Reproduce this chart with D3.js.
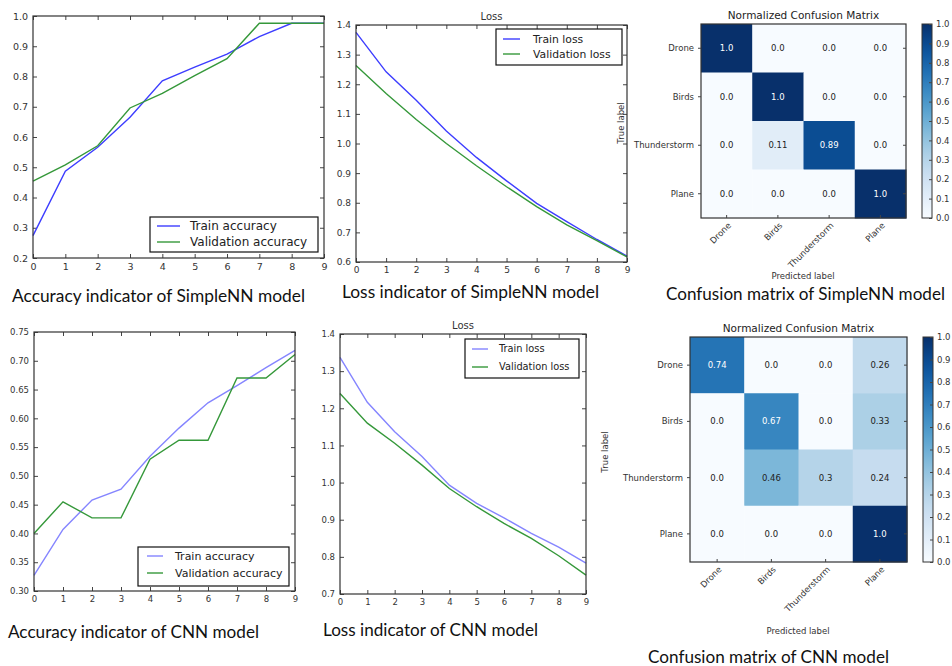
<!DOCTYPE html>
<html>
<head>
<meta charset="utf-8">
<script src="https://cdn.jsdelivr.net/npm/d3@7"></script>
<style>
  body { margin: 0; background: #fff; }
  svg { display: block; }
  .tick text { font-family: "DejaVu Sans", sans-serif; fill: #333; }
  .caption { font-family: Lato, "Open Sans", sans-serif; fill: #111; }
  .small { font-family: "DejaVu Sans", sans-serif; fill: #333; }
</style>
</head>
<body>
<div id="chart"></div>
<script>
// data
var epochs = [0, 1, 2, 3, 4, 5, 6, 7, 8, 9];

var simpleTrainAcc = [0.274, 0.487, 0.566, 0.665, 0.786, 0.831, 0.874, 0.932, 0.976, 0.976];
var simpleValAcc = [0.454, 0.508, 0.571, 0.696, 0.744, 0.803, 0.859, 0.976, 0.976, 0.976];
var simpleTrainLoss = [1.375, 1.242, 1.146, 1.042, 0.953, 0.874, 0.798, 0.736, 0.676, 0.62];
var simpleValLoss = [1.263, 1.169, 1.081, 1.0, 0.925, 0.854, 0.787, 0.725, 0.672, 0.617];

var cnnTrainAcc = [0.327, 0.407, 0.458, 0.477, 0.534, 0.583, 0.627, 0.657, 0.688, 0.718];
var cnnValAcc = [0.4, 0.455, 0.427, 0.427, 0.529, 0.562, 0.562, 0.67, 0.67, 0.711];
var cnnTrainLoss = [1.337, 1.216, 1.137, 1.07, 0.993, 0.944, 0.905, 0.863, 0.826, 0.783];
var cnnValLoss = [1.24, 1.16, 1.106, 1.047, 0.984, 0.935, 0.89, 0.85, 0.803, 0.751];

var classLabels = ["Drone", "Birds", "Thunderstorm", "Plane"];
var simpleCM = [
  [1.0, 0.0, 0.0, 0.0],
  [0.0, 1.0, 0.0, 0.0],
  [0.0, 0.11, 0.89, 0.0],
  [0.0, 0.0, 0.0, 1.0],
];
var cnnCM = [
  [0.74, 0.0, 0.0, 0.26],
  [0.0, 0.67, 0.0, 0.33],
  [0.0, 0.46, 0.3, 0.24],
  [0.0, 0.0, 0.0, 1.0],
];
var colorbarTicks = [0, 0.1, 0.2, 0.3, 0.4, 0.5, 0.6, 0.7, 0.8, 0.9, 1.0];

var svgWidth = 952;
var svgHeight = 666;

var svg = d3
  .select("#chart")
  .append("svg")
  .attr("width", svgWidth)
  .attr("height", svgHeight);

var blue = "#3d3dff";
var lightBlue = "#8585ff";
var green = "#35983a";

// line chart with matplotlib classic look (ticks inward on all sides)
function linePanel(p) {
  var x = d3.scaleLinear().domain([0, 9]).range([p.x0, p.x1]);
  var y = d3.scaleLinear().domain(p.yDomain).range([p.y1, p.y0]);
  var g = svg.append("g");

  g.append("rect")
    .attr("x", p.x0)
    .attr("y", p.y0)
    .attr("width", p.x1 - p.x0)
    .attr("height", p.y1 - p.y0)
    .attr("fill", "#fff");

  var bottomAxis = d3.axisBottom(x).tickValues(epochs).tickFormat(d3.format("d"))
    .tickSizeInner(-4).tickSizeOuter(0).tickPadding(5);
  var leftAxis = d3.axisLeft(y).tickValues(p.yTicks).tickFormat(d3.format(p.fmt))
    .tickSizeInner(-4).tickSizeOuter(0).tickPadding(5);
  var topAxis = d3.axisTop(x).tickValues(epochs).tickFormat("")
    .tickSizeInner(-4).tickSizeOuter(0);
  var rightAxis = d3.axisRight(y).tickValues(p.yTicks).tickFormat("")
    .tickSizeInner(-4).tickSizeOuter(0);

  var axes = [
    g.append("g").attr("transform", `translate(0, ${p.y1})`).call(bottomAxis),
    g.append("g").attr("transform", `translate(${p.x0}, 0)`).call(leftAxis),
    g.append("g").attr("transform", `translate(0, ${p.y0})`).call(topAxis),
    g.append("g").attr("transform", `translate(${p.x1}, 0)`).call(rightAxis),
  ];
  axes.forEach((a) => {
    a.select(".domain").remove();
    a.selectAll(".tick line").attr("stroke", "#444");
    a.selectAll(".tick text").style("font-size", p.tickSize + "px");
  });

  var line = d3.line().x((d, i) => x(epochs[i])).y((d) => y(d));
  p.series.forEach((s) => {
    g.append("path")
      .datum(s.values)
      .attr("fill", "none")
      .attr("stroke", s.color)
      .attr("stroke-width", 1.4)
      .attr("d", line);
  });

  g.append("rect")
    .attr("x", p.x0)
    .attr("y", p.y0)
    .attr("width", p.x1 - p.x0)
    .attr("height", p.y1 - p.y0)
    .attr("fill", "none")
    .attr("stroke", "#333")
    .attr("stroke-width", 1.2);

  if (p.title) {
    g.append("text")
      .attr("class", "small")
      .attr("x", (p.x0 + p.x1) / 2)
      .attr("y", p.y0 - 5)
      .attr("text-anchor", "middle")
      .style("font-size", "10px")
      .text(p.title);
  }

  // legend
  var L = p.legend;
  g.append("rect")
    .attr("x", L.x0)
    .attr("y", L.y0)
    .attr("width", L.x1 - L.x0)
    .attr("height", L.y1 - L.y0)
    .attr("fill", "#fff")
    .attr("stroke", "#111")
    .attr("stroke-width", 1.2);
  p.series.forEach((s, i) => {
    var ly = L.rows[i];
    g.append("line")
      .attr("x1", L.sx0)
      .attr("x2", L.sx1)
      .attr("y1", ly)
      .attr("y2", ly)
      .attr("stroke", s.color)
      .attr("stroke-width", 1.4);
    g.append("text")
      .attr("class", "small")
      .attr("x", L.tx)
      .attr("y", ly)
      .attr("dy", "0.35em")
      .style("font-size", L.size + "px")
      .style("fill", "#222")
      .text(s.name);
  });
}

function fmtCell(v) {
  return Number.isInteger(v) ? v.toFixed(1) : String(v);
}

function matrixPanel(p) {
  var g = svg.append("g");
  var x = d3.scaleBand().domain(d3.range(4)).range([p.x0, p.x1]);
  var y = d3.scaleBand().domain(d3.range(4)).range([p.y0, p.y1]);
  var color = d3.scaleSequential(d3.interpolateBlues).domain([0, 1]);

  var cells = [];
  p.matrix.forEach((row, r) => row.forEach((v, c) => cells.push({ r: r, c: c, v: v })));

  g.selectAll("rect.cell")
    .data(cells)
    .enter()
    .append("rect")
    .attr("class", "cell")
    .attr("x", (d) => x(d.c))
    .attr("y", (d) => y(d.r))
    .attr("width", x.bandwidth() + 0.5)
    .attr("height", y.bandwidth() + 0.5)
    .attr("fill", (d) => color(d.v));

  g.selectAll("text.val")
    .data(cells)
    .enter()
    .append("text")
    .attr("class", "small")
    .attr("x", (d) => x(d.c) + x.bandwidth() / 2)
    .attr("y", (d) => y(d.r) + y.bandwidth() / 2)
    .attr("dy", "0.35em")
    .attr("text-anchor", "middle")
    .style("font-size", "8.5px")
    .style("fill", (d) => (d.v > 0.5 ? "#fff" : "#222"))
    .text((d) => fmtCell(d.v));

  g.append("rect")
    .attr("x", p.x0)
    .attr("y", p.y0)
    .attr("width", p.x1 - p.x0)
    .attr("height", p.y1 - p.y0)
    .attr("fill", "none")
    .attr("stroke", "#333")
    .attr("stroke-width", 1.2);

  // row labels and ticks
  classLabels.forEach((lab, i) => {
    var cy = y(i) + y.bandwidth() / 2;
    var cx = x(i) + x.bandwidth() / 2;
    g.append("text")
      .attr("class", "small")
      .attr("x", p.x0 - 7)
      .attr("y", cy)
      .attr("dy", "0.35em")
      .attr("text-anchor", "end")
      .style("font-size", "8.5px")
      .text(lab);
    g.append("line")
      .attr("x1", p.x0 - 3).attr("x2", p.x0)
      .attr("y1", cy).attr("y2", cy)
      .attr("stroke", "#444");
    g.append("line")
      .attr("x1", p.x1 - 3).attr("x2", p.x1)
      .attr("y1", cy).attr("y2", cy)
      .attr("stroke", "#444");
    g.append("line")
      .attr("x1", cx).attr("x2", cx)
      .attr("y1", p.y1 - 3).attr("y2", p.y1)
      .attr("stroke", "#444");
    g.append("text")
      .attr("class", "small")
      .attr("transform", `translate(${cx + 5}, ${p.y1 + 8}) rotate(-45)`)
      .attr("text-anchor", "end")
      .style("font-size", "8.5px")
      .text(lab);
  });

  g.append("text")
    .attr("class", "small")
    .attr("x", (p.x0 + p.x1) / 2)
    .attr("y", p.y0 - 5)
    .attr("text-anchor", "middle")
    .style("font-size", "10.5px")
    .style("fill", "#222")
    .text("Normalized Confusion Matrix");

  g.append("text")
    .attr("class", "small")
    .attr("x", p.predX)
    .attr("y", p.predY)
    .attr("text-anchor", "middle")
    .style("font-size", "8.5px")
    .text("Predicted label");

  g.append("text")
    .attr("class", "small")
    .attr("transform", `translate(${p.trueX}, ${p.trueY}) rotate(-90)`)
    .attr("text-anchor", "middle")
    .style("font-size", "8.5px")
    .text("True label");

  // colorbar
  var gradId = "grad" + p.id;
  var grad = svg.append("defs").append("linearGradient")
    .attr("id", gradId)
    .attr("x1", 0).attr("x2", 0).attr("y1", 1).attr("y2", 0);
  d3.range(0, 1.001, 0.05).forEach((t) => {
    grad.append("stop").attr("offset", t).attr("stop-color", color(t));
  });
  var cb = d3.scaleLinear().domain([0, 1]).range([p.y1, p.y0]);
  g.append("rect")
    .attr("x", p.cbx)
    .attr("y", p.y0)
    .attr("width", 10)
    .attr("height", p.y1 - p.y0)
    .attr("fill", `url(#${gradId})`)
    .attr("stroke", "#333")
    .attr("stroke-width", 1);
  var cbAxis = d3.axisRight(cb).tickValues(colorbarTicks).tickFormat(d3.format(".1f"))
    .tickSizeInner(-3).tickSizeOuter(0).tickPadding(4);
  var cbg = g.append("g").attr("transform", `translate(${p.cbx + 10}, 0)`).call(cbAxis);
  cbg.select(".domain").remove();
  cbg.selectAll(".tick line").attr("stroke", "#444");
  cbg.selectAll(".tick text").style("font-size", "8.5px");
}

linePanel({
  x0: 33, x1: 324, y0: 16, y1: 258,
  yDomain: [0.2, 1.0],
  yTicks: [0.2, 0.3, 0.4, 0.5, 0.6, 0.7, 0.8, 0.9, 1.0],
  fmt: ".1f",
  tickSize: 9.5,
  series: [
    { name: "Train accuracy", values: simpleTrainAcc, color: blue },
    { name: "Validation accuracy", values: simpleValAcc, color: green },
  ],
  legend: { x0: 150, x1: 318, y0: 217, y1: 252, rows: [226, 242], sx0: 157, sx1: 180, tx: 190, size: 12 },
});

linePanel({
  x0: 356, x1: 627, y0: 25, y1: 262,
  yDomain: [0.6, 1.4],
  yTicks: [0.6, 0.7, 0.8, 0.9, 1.0, 1.1, 1.2, 1.3, 1.4],
  fmt: ".1f",
  tickSize: 9,
  title: "Loss",
  series: [
    { name: "Train loss", values: simpleTrainLoss, color: blue },
    { name: "Validation loss", values: simpleValLoss, color: green },
  ],
  legend: { x0: 496, x1: 622, y0: 29, y1: 65, rows: [39, 54], sx0: 503, sx1: 520, tx: 533, size: 10.8 },
});

linePanel({
  x0: 34, x1: 295, y0: 332, y1: 591,
  yDomain: [0.3, 0.75],
  yTicks: [0.3, 0.35, 0.4, 0.45, 0.5, 0.55, 0.6, 0.65, 0.7, 0.75],
  fmt: ".2f",
  tickSize: 8.5,
  series: [
    { name: "Train accuracy", values: cnnTrainAcc, color: lightBlue },
    { name: "Validation accuracy", values: cnnValAcc, color: green },
  ],
  legend: { x0: 138, x1: 289, y0: 547, y1: 586, rows: [556, 573], sx0: 147, sx1: 163, tx: 175, size: 11 },
});

linePanel({
  x0: 340, x1: 586, y0: 334, y1: 594,
  yDomain: [0.7, 1.4],
  yTicks: [0.7, 0.8, 0.9, 1.0, 1.1, 1.2, 1.3, 1.4],
  fmt: ".1f",
  tickSize: 8.5,
  title: "Loss",
  series: [
    { name: "Train loss", values: cnnTrainLoss, color: lightBlue },
    { name: "Validation loss", values: cnnValLoss, color: green },
  ],
  legend: { x0: 465, x1: 579, y0: 339, y1: 378, rows: [349, 367], sx0: 472, sx1: 488, tx: 499, size: 9.8 },
});

matrixPanel({
  id: 1, matrix: simpleCM,
  x0: 701, x1: 906, y0: 24, y1: 218,
  cbx: 922, predX: 803, predY: 279, trueX: 624, trueY: 123,
});

matrixPanel({
  id: 2, matrix: cnnCM,
  x0: 690, x1: 907, y0: 337, y1: 562,
  cbx: 923, predX: 798, predY: 634, trueX: 608, trueY: 452,
});

// captions under each panel
var captions = [
  { text: "Accuracy indicator of SimpleNN model", x: 12, y: 302, w: 293 },
  { text: "Loss indicator of SimpleNN model", x: 342, y: 298, w: 257 },
  { text: "Confusion matrix of SimpleNN model", x: 666, y: 300, w: 279 },
  { text: "Accuracy indicator of CNN model", x: 8, y: 638, w: 251 },
  { text: "Loss indicator of CNN model", x: 323, y: 636, w: 215 },
  { text: "Confusion matrix of CNN model", x: 648, y: 663, w: 241 },
];
captions.forEach((c) => {
  svg.append("text")
    .attr("class", "caption")
    .attr("x", c.x)
    .attr("y", c.y)
    .attr("textLength", c.w)
    .attr("lengthAdjust", "spacingAndGlyphs")
    .style("font-size", "17.5px")
    .text(c.text);
});
</script>
</body>
</html>
